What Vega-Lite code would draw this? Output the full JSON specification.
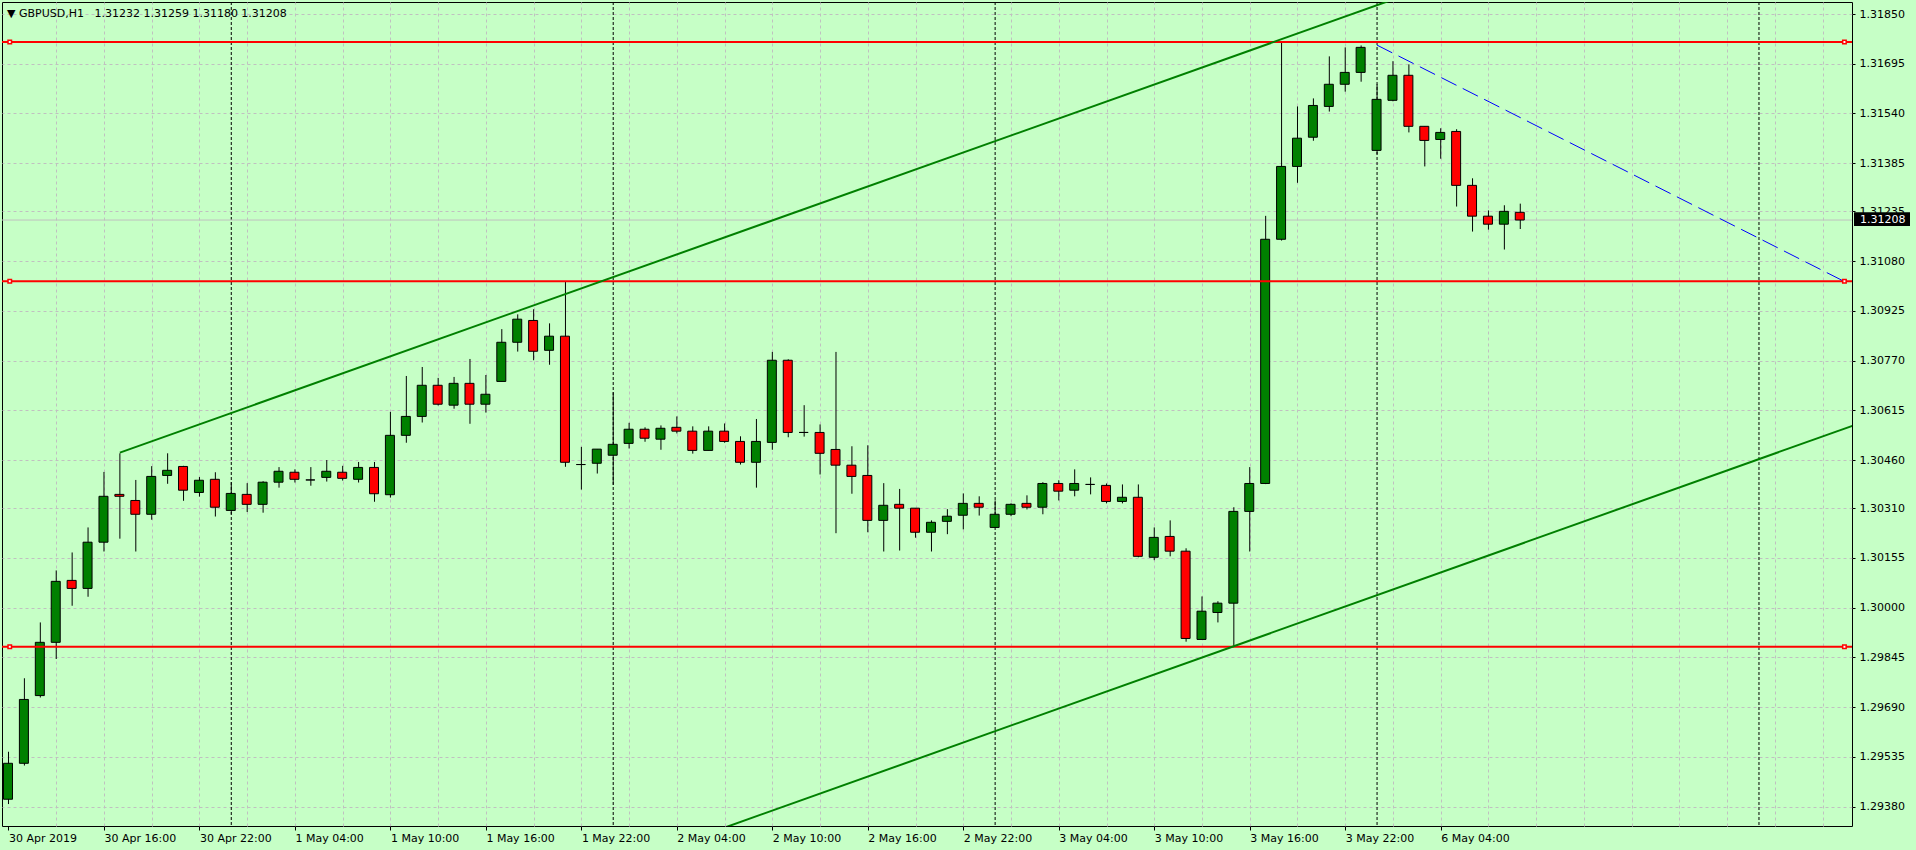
{
  "$schema": "https://vega.github.io/schema/vega-lite/v6.json",
  "width": 1850,
  "height": 824,
  "autosize": {"type": "none"},
  "padding": {"left": 2, "top": 2, "right": 64, "bottom": 24},
  "background": "#c6ffc6",
  "config": {
    "view": {"stroke": "#000000", "strokeWidth": 1, "fill": "#c6ffc6"},
    "font": "DejaVu Sans",
    "axis": {"labelFont": "DejaVu Sans", "labelFontSize": 11, "labelColor": "#000000", "tickColor": "#000000", "tickWidth": 1, "domain": false, "gridColor": "#c0c0c0", "gridDash": [3, 3], "gridWidth": 1, "gridOpacity": 1}
  },
  "title": {"text": "▼ GBPUSD,H1\u00a0\u00a0 1.31232 1.31259 1.31180 1.31208", "anchor": "start", "frame": "group", "orient": "top", "offset": -17, "dx": 5, "font": "DejaVu Sans", "fontSize": 11, "fontWeight": "normal", "color": "#000000"},
  "datasets": {
    "candles": [
      {"t": "2019-04-30 10:00", "i": 0, "o": 1.29403, "h": 1.29551, "l": 1.29388, "c": 1.29515},
      {"t": "2019-04-30 11:00", "i": 1, "o": 1.29515, "h": 1.29780, "l": 1.29508, "c": 1.29714},
      {"t": "2019-04-30 12:00", "i": 2, "o": 1.29726, "h": 1.29954, "l": 1.29720, "c": 1.29892},
      {"t": "2019-04-30 13:00", "i": 3, "o": 1.29892, "h": 1.30116, "l": 1.29840, "c": 1.30082},
      {"t": "2019-04-30 14:00", "i": 4, "o": 1.30085, "h": 1.30172, "l": 1.30006, "c": 1.30060},
      {"t": "2019-04-30 15:00", "i": 5, "o": 1.30060, "h": 1.30250, "l": 1.30034, "c": 1.30204},
      {"t": "2019-04-30 16:00", "i": 6, "o": 1.30204, "h": 1.30423, "l": 1.30175, "c": 1.30347},
      {"t": "2019-04-30 17:00", "i": 7, "o": 1.30353, "h": 1.30481, "l": 1.30215, "c": 1.30347},
      {"t": "2019-04-30 18:00", "i": 8, "o": 1.30334, "h": 1.30398, "l": 1.30175, "c": 1.30291},
      {"t": "2019-04-30 19:00", "i": 9, "o": 1.30291, "h": 1.30441, "l": 1.30274, "c": 1.30409},
      {"t": "2019-04-30 20:00", "i": 10, "o": 1.30412, "h": 1.30481, "l": 1.30386, "c": 1.30428},
      {"t": "2019-04-30 21:00", "i": 11, "o": 1.30440, "h": 1.30442, "l": 1.30333, "c": 1.30366},
      {"t": "2019-04-30 22:00", "i": 12, "o": 1.30359, "h": 1.30407, "l": 1.30346, "c": 1.30397},
      {"t": "2019-04-30 23:00", "i": 13, "o": 1.30400, "h": 1.30422, "l": 1.30284, "c": 1.30313},
      {"t": "2019-05-01 00:00", "i": 14, "o": 1.30303, "h": 1.30391, "l": 1.30291, "c": 1.30356},
      {"t": "2019-05-01 01:00", "i": 15, "o": 1.30353, "h": 1.30388, "l": 1.30298, "c": 1.30322},
      {"t": "2019-05-01 02:00", "i": 16, "o": 1.30322, "h": 1.30394, "l": 1.30296, "c": 1.30391},
      {"t": "2019-05-01 03:00", "i": 17, "o": 1.30391, "h": 1.30438, "l": 1.30374, "c": 1.30425},
      {"t": "2019-05-01 04:00", "i": 18, "o": 1.30422, "h": 1.30431, "l": 1.30390, "c": 1.30400},
      {"t": "2019-05-01 05:00", "i": 19, "o": 1.30398, "h": 1.30438, "l": 1.30380, "c": 1.30398},
      {"t": "2019-05-01 06:00", "i": 20, "o": 1.30406, "h": 1.30460, "l": 1.30393, "c": 1.30425},
      {"t": "2019-05-01 07:00", "i": 21, "o": 1.30422, "h": 1.30442, "l": 1.30396, "c": 1.30403},
      {"t": "2019-05-01 08:00", "i": 22, "o": 1.30400, "h": 1.30454, "l": 1.30390, "c": 1.30437},
      {"t": "2019-05-01 09:00", "i": 23, "o": 1.30437, "h": 1.30454, "l": 1.30330, "c": 1.30355},
      {"t": "2019-05-01 10:00", "i": 24, "o": 1.30352, "h": 1.30610, "l": 1.30343, "c": 1.30537},
      {"t": "2019-05-01 11:00", "i": 25, "o": 1.30537, "h": 1.30722, "l": 1.30514, "c": 1.30596},
      {"t": "2019-05-01 12:00", "i": 26, "o": 1.30596, "h": 1.30750, "l": 1.30577, "c": 1.30693},
      {"t": "2019-05-01 13:00", "i": 27, "o": 1.30693, "h": 1.30716, "l": 1.30630, "c": 1.30634},
      {"t": "2019-05-01 14:00", "i": 28, "o": 1.30631, "h": 1.30719, "l": 1.30620, "c": 1.30699},
      {"t": "2019-05-01 15:00", "i": 29, "o": 1.30699, "h": 1.30775, "l": 1.30573, "c": 1.30634},
      {"t": "2019-05-01 16:00", "i": 30, "o": 1.30634, "h": 1.30725, "l": 1.30608, "c": 1.30665},
      {"t": "2019-05-01 17:00", "i": 31, "o": 1.30705, "h": 1.30868, "l": 1.30705, "c": 1.30827},
      {"t": "2019-05-01 18:00", "i": 32, "o": 1.30827, "h": 1.30914, "l": 1.30798, "c": 1.30899},
      {"t": "2019-05-01 19:00", "i": 33, "o": 1.30895, "h": 1.30930, "l": 1.30771, "c": 1.30799},
      {"t": "2019-05-01 20:00", "i": 34, "o": 1.30802, "h": 1.30886, "l": 1.30757, "c": 1.30846},
      {"t": "2019-05-01 21:00", "i": 35, "o": 1.30846, "h": 1.31017, "l": 1.30439, "c": 1.30453},
      {"t": "2019-05-01 22:00", "i": 36, "o": 1.30446, "h": 1.30501, "l": 1.30368, "c": 1.30446},
      {"t": "2019-05-01 23:00", "i": 37, "o": 1.30450, "h": 1.30494, "l": 1.30418, "c": 1.30494},
      {"t": "2019-05-02 00:00", "i": 38, "o": 1.30475, "h": 1.30671, "l": 1.30383, "c": 1.30509},
      {"t": "2019-05-02 01:00", "i": 39, "o": 1.30512, "h": 1.30576, "l": 1.30496, "c": 1.30556},
      {"t": "2019-05-02 02:00", "i": 40, "o": 1.30556, "h": 1.30562, "l": 1.30517, "c": 1.30528},
      {"t": "2019-05-02 03:00", "i": 41, "o": 1.30525, "h": 1.30568, "l": 1.30492, "c": 1.30559},
      {"t": "2019-05-02 04:00", "i": 42, "o": 1.30562, "h": 1.30596, "l": 1.30543, "c": 1.30550},
      {"t": "2019-05-02 05:00", "i": 43, "o": 1.30550, "h": 1.30565, "l": 1.30480, "c": 1.30490},
      {"t": "2019-05-02 06:00", "i": 44, "o": 1.30490, "h": 1.30565, "l": 1.30490, "c": 1.30550},
      {"t": "2019-05-02 07:00", "i": 45, "o": 1.30550, "h": 1.30574, "l": 1.30514, "c": 1.30518},
      {"t": "2019-05-02 08:00", "i": 46, "o": 1.30518, "h": 1.30534, "l": 1.30446, "c": 1.30453},
      {"t": "2019-05-02 09:00", "i": 47, "o": 1.30453, "h": 1.30588, "l": 1.30374, "c": 1.30518},
      {"t": "2019-05-02 10:00", "i": 48, "o": 1.30515, "h": 1.30797, "l": 1.30492, "c": 1.30771},
      {"t": "2019-05-02 11:00", "i": 49, "o": 1.30771, "h": 1.30774, "l": 1.30531, "c": 1.30546},
      {"t": "2019-05-02 12:00", "i": 50, "o": 1.30546, "h": 1.30631, "l": 1.30533, "c": 1.30546},
      {"t": "2019-05-02 13:00", "i": 51, "o": 1.30546, "h": 1.30571, "l": 1.30415, "c": 1.30481},
      {"t": "2019-05-02 14:00", "i": 52, "o": 1.30493, "h": 1.30797, "l": 1.30232, "c": 1.30444},
      {"t": "2019-05-02 15:00", "i": 53, "o": 1.30444, "h": 1.30503, "l": 1.30355, "c": 1.30409},
      {"t": "2019-05-02 16:00", "i": 54, "o": 1.30412, "h": 1.30506, "l": 1.30235, "c": 1.30272},
      {"t": "2019-05-02 17:00", "i": 55, "o": 1.30272, "h": 1.30388, "l": 1.30175, "c": 1.30319},
      {"t": "2019-05-02 18:00", "i": 56, "o": 1.30322, "h": 1.30370, "l": 1.30178, "c": 1.30310},
      {"t": "2019-05-02 19:00", "i": 57, "o": 1.30310, "h": 1.30310, "l": 1.30218, "c": 1.30235},
      {"t": "2019-05-02 20:00", "i": 58, "o": 1.30235, "h": 1.30272, "l": 1.30175, "c": 1.30266},
      {"t": "2019-05-02 21:00", "i": 59, "o": 1.30269, "h": 1.30307, "l": 1.30229, "c": 1.30285},
      {"t": "2019-05-02 22:00", "i": 60, "o": 1.30288, "h": 1.30356, "l": 1.30244, "c": 1.30325},
      {"t": "2019-05-02 23:00", "i": 61, "o": 1.30325, "h": 1.30347, "l": 1.30287, "c": 1.30313},
      {"t": "2019-05-03 00:00", "i": 62, "o": 1.30250, "h": 1.30334, "l": 1.30250, "c": 1.30291},
      {"t": "2019-05-03 01:00", "i": 63, "o": 1.30291, "h": 1.30325, "l": 1.30285, "c": 1.30322},
      {"t": "2019-05-03 02:00", "i": 64, "o": 1.30325, "h": 1.30350, "l": 1.30306, "c": 1.30313},
      {"t": "2019-05-03 03:00", "i": 65, "o": 1.30313, "h": 1.30391, "l": 1.30291, "c": 1.30387},
      {"t": "2019-05-03 04:00", "i": 66, "o": 1.30387, "h": 1.30397, "l": 1.30334, "c": 1.30363},
      {"t": "2019-05-03 05:00", "i": 67, "o": 1.30366, "h": 1.30431, "l": 1.30347, "c": 1.30387},
      {"t": "2019-05-03 06:00", "i": 68, "o": 1.30384, "h": 1.30406, "l": 1.30353, "c": 1.30384},
      {"t": "2019-05-03 07:00", "i": 69, "o": 1.30381, "h": 1.30387, "l": 1.30325, "c": 1.30331},
      {"t": "2019-05-03 08:00", "i": 70, "o": 1.30331, "h": 1.30384, "l": 1.30325, "c": 1.30344},
      {"t": "2019-05-03 09:00", "i": 71, "o": 1.30344, "h": 1.30384, "l": 1.30157, "c": 1.30160},
      {"t": "2019-05-03 10:00", "i": 72, "o": 1.30157, "h": 1.30250, "l": 1.30148, "c": 1.30219},
      {"t": "2019-05-03 11:00", "i": 73, "o": 1.30222, "h": 1.30272, "l": 1.30160, "c": 1.30176},
      {"t": "2019-05-03 12:00", "i": 74, "o": 1.30176, "h": 1.30185, "l": 1.29894, "c": 1.29904},
      {"t": "2019-05-03 13:00", "i": 75, "o": 1.29901, "h": 1.30035, "l": 1.29901, "c": 1.29989},
      {"t": "2019-05-03 14:00", "i": 76, "o": 1.29985, "h": 1.30020, "l": 1.29954, "c": 1.30014},
      {"t": "2019-05-03 15:00", "i": 77, "o": 1.30014, "h": 1.30313, "l": 1.29880, "c": 1.30300},
      {"t": "2019-05-03 16:00", "i": 78, "o": 1.30300, "h": 1.30438, "l": 1.30175, "c": 1.30387},
      {"t": "2019-05-03 17:00", "i": 79, "o": 1.30387, "h": 1.31221, "l": 1.30385, "c": 1.31148},
      {"t": "2019-05-03 18:00", "i": 80, "o": 1.31148, "h": 1.31762, "l": 1.31144, "c": 1.31375},
      {"t": "2019-05-03 19:00", "i": 81, "o": 1.31375, "h": 1.31562, "l": 1.31324, "c": 1.31463},
      {"t": "2019-05-03 20:00", "i": 82, "o": 1.31466, "h": 1.31587, "l": 1.31455, "c": 1.31565},
      {"t": "2019-05-03 21:00", "i": 83, "o": 1.31562, "h": 1.31718, "l": 1.31546, "c": 1.31631},
      {"t": "2019-05-03 22:00", "i": 84, "o": 1.31631, "h": 1.31746, "l": 1.31608, "c": 1.31668},
      {"t": "2019-05-03 23:00", "i": 85, "o": 1.31668, "h": 1.31752, "l": 1.31639, "c": 1.31746},
      {"t": "2019-05-06 00:00", "i": 86, "o": 1.31425, "h": 1.31631, "l": 1.31413, "c": 1.31584},
      {"t": "2019-05-06 01:00", "i": 87, "o": 1.31581, "h": 1.31703, "l": 1.31578, "c": 1.31659},
      {"t": "2019-05-06 02:00", "i": 88, "o": 1.31659, "h": 1.31693, "l": 1.31481, "c": 1.31500},
      {"t": "2019-05-06 03:00", "i": 89, "o": 1.31500, "h": 1.31500, "l": 1.31375, "c": 1.31456},
      {"t": "2019-05-06 04:00", "i": 90, "o": 1.31459, "h": 1.31494, "l": 1.31399, "c": 1.31481},
      {"t": "2019-05-06 05:00", "i": 91, "o": 1.31484, "h": 1.31491, "l": 1.31250, "c": 1.31316},
      {"t": "2019-05-06 06:00", "i": 92, "o": 1.31316, "h": 1.31338, "l": 1.31172, "c": 1.31220},
      {"t": "2019-05-06 07:00", "i": 93, "o": 1.31220, "h": 1.31238, "l": 1.31178, "c": 1.31195},
      {"t": "2019-05-06 08:00", "i": 94, "o": 1.31195, "h": 1.31254, "l": 1.31116, "c": 1.31235},
      {"t": "2019-05-06 09:00", "i": 95, "o": 1.31232, "h": 1.31259, "l": 1.31180, "c": 1.31208}
    ],
    "separators": [
      {"t": "2019-05-01 00:00", "i": 14},
      {"t": "2019-05-02 00:00", "i": 38},
      {"t": "2019-05-03 00:00", "i": 62},
      {"t": "2019-05-06 00:00", "i": 86},
      {"t": "2019-05-07 00:00", "i": 110}
    ],
    "levels": [
      {"name": "resistance", "p": 1.31763},
      {"name": "middle", "p": 1.31017},
      {"name": "support", "p": 1.29878}
    ],
    "trend": [
      {"name": "upper", "i": 7, "p": 1.30483},
      {"name": "upper", "i": 87.5, "p": 1.31904},
      {"name": "lower", "i": 44, "p": 1.29297},
      {"name": "lower", "i": 116, "p": 1.30569},
      {"name": "blue", "i": 86, "p": 1.31753},
      {"name": "blue", "i": 115.5, "p": 1.31013}
    ],
    "bid": [{"p": 1.31208, "label": "1.31208"}]
  },
  "layer": [
    {
      "data": {"name": "separators"},
      "mark": {"type": "rule", "color": "#000000", "strokeWidth": 1, "strokeDash": [3, 2]},
      "encoding": {
        "x": {"field": "i", "type": "quantitative", "title": null,
          "scale": {"domain": [-0.09375, 115.53125], "nice": false, "zero": false},
          "axis": {"orient": "bottom", "values": [3,6,9,12,15,18,21,24,27,30,33,36,39,42,45,48,51,54,57,60,63,66,69,72,75,78,81,84,87,90,93,96,99,102,105,108,111,114], "grid": true, "labels": false, "ticks": false, "domain": false, "title": null}}
      }
    },
    {
      "data": {"name": "bid"},
      "mark": {"type": "rule", "color": "#c0c0c0", "strokeWidth": 1},
      "encoding": {
        "y": {"field": "p", "type": "quantitative", "title": null, "axis": null,
          "scale": {"domain": [1.293196, 1.318874], "nice": false, "zero": false}}
      }
    },
    {
      "data": {"name": "candles"},
      "mark": {"type": "rule", "color": "#000000", "strokeWidth": 1, "clip": true},
      "encoding": {
        "x": {"field": "i", "type": "quantitative", "title": null,
          "scale": {"domain": [-0.09375, 115.53125], "nice": false, "zero": false},
          "axis": {"orient": "bottom", "values": [0,6,12,18,24,30,36,42,48,54,60,66,72,78,84,90], "grid": false, "domain": false, "title": null, "tickSize": 4, "labelPadding": 2, "labelAlign": "left", "labelBaseline": "top", "labelFlush": false, "labelOverlap": false, "labelBound": false,
            "labelExpr": "['30 Apr 2019','30 Apr 16:00','30 Apr 22:00','1 May 04:00','1 May 10:00','1 May 16:00','1 May 22:00','2 May 04:00','2 May 10:00','2 May 16:00','2 May 22:00','3 May 04:00','3 May 10:00','3 May 16:00','3 May 22:00','6 May 04:00'][round(datum.value/6)]"}},
        "y": {"field": "l", "type": "quantitative", "title": null, "axis": null,
          "scale": {"domain": [1.293196, 1.318874], "nice": false, "zero": false}},
        "y2": {"field": "h"}
      }
    },
    {
      "data": {"name": "candles"},
      "mark": {"type": "bar", "width": 9, "xOffset": -0.5, "stroke": "#000000", "strokeWidth": 1, "clip": true, "cornerRadius": 0},
      "encoding": {
        "x": {"field": "i", "type": "quantitative", "title": null, "axis": null,
          "scale": {"domain": [-0.09375, 115.53125], "nice": false, "zero": false}},
        "y": {"field": "o", "type": "quantitative", "title": null,
          "scale": {"domain": [1.293196, 1.318874], "nice": false, "zero": false},
          "axis": {"orient": "right", "values": [1.2938, 1.29535, 1.2969, 1.29845, 1.3, 1.30155, 1.3031, 1.3046, 1.30615, 1.3077, 1.30925, 1.3108, 1.31235, 1.31385, 1.3154, 1.31695, 1.3185], "format": ".5f", "grid": true, "domain": false, "tickSize": 3, "labelPadding": 4, "labelAlign": "left", "labelBaseline": "middle", "labelFlush": false, "labelOverlap": false, "labelBound": false, "title": null}},
        "y2": {"field": "c"},
        "color": {"condition": {"test": "datum.c > datum.o", "value": "#008000"}, "value": "#ff0000"}
      }
    },
    {
      "data": {"name": "levels"},
      "mark": {"type": "rule", "color": "#ff0000", "strokeWidth": 2},
      "encoding": {
        "y": {"field": "p", "type": "quantitative", "title": null, "axis": null,
          "scale": {"domain": [1.293196, 1.318874], "nice": false, "zero": false}}
      }
    },
    {
      "data": {"name": "trend"},
      "transform": [{"filter": "datum.name !== 'blue'"}],
      "mark": {"type": "line", "color": "#008000", "strokeWidth": 2, "clip": true},
      "encoding": {
        "x": {"field": "i", "type": "quantitative", "title": null, "axis": null,
          "scale": {"domain": [-0.09375, 115.53125], "nice": false, "zero": false}},
        "y": {"field": "p", "type": "quantitative", "title": null, "axis": null,
          "scale": {"domain": [1.293196, 1.318874], "nice": false, "zero": false}},
        "detail": {"field": "name"}
      }
    },
    {
      "data": {"name": "trend"},
      "transform": [{"filter": "datum.name === 'blue'"}],
      "mark": {"type": "line", "color": "#0000ff", "strokeWidth": 1, "strokeDash": [17, 7], "clip": true},
      "encoding": {
        "x": {"field": "i", "type": "quantitative", "title": null, "axis": null,
          "scale": {"domain": [-0.09375, 115.53125], "nice": false, "zero": false}},
        "y": {"field": "p", "type": "quantitative", "title": null, "axis": null,
          "scale": {"domain": [1.293196, 1.318874], "nice": false, "zero": false}}
      }
    },
    {
      "data": {"name": "levels"},
      "mark": {"type": "point", "shape": "square", "size": 12, "filled": true, "fill": "#ffffff", "stroke": "#ff0000", "strokeWidth": 1.5, "opacity": 1},
      "encoding": {
        "x": {"datum": 0.08, "type": "quantitative", "axis": null,
          "scale": {"domain": [-0.09375, 115.53125], "nice": false, "zero": false}},
        "y": {"field": "p", "type": "quantitative", "title": null, "axis": null,
          "scale": {"domain": [1.293196, 1.318874], "nice": false, "zero": false}}
      }
    },
    {
      "data": {"name": "levels"},
      "mark": {"type": "point", "shape": "square", "size": 12, "filled": true, "fill": "#ffffff", "stroke": "#ff0000", "strokeWidth": 1.5, "opacity": 1},
      "encoding": {
        "x": {"datum": 115.37, "type": "quantitative", "axis": null,
          "scale": {"domain": [-0.09375, 115.53125], "nice": false, "zero": false}},
        "y": {"field": "p", "type": "quantitative", "title": null, "axis": null,
          "scale": {"domain": [1.293196, 1.318874], "nice": false, "zero": false}}
      }
    },
    {
      "data": {"name": "bid"},
      "mark": {"type": "rect", "color": "#000000", "xOffset": 2, "x2Offset": 58, "clip": false},
      "encoding": {
        "x": {"value": "width"},
        "x2": {"value": "width"},
        "y": {"datum": 1.31232, "type": "quantitative", "axis": null,
          "scale": {"domain": [1.293196, 1.318874], "nice": false, "zero": false}},
        "y2": {"datum": 1.31189}
      }
    },
    {
      "data": {"name": "bid"},
      "mark": {"type": "text", "color": "#ffffff", "align": "left", "baseline": "middle", "dx": 8, "font": "DejaVu Sans", "fontSize": 11, "clip": false},
      "encoding": {
        "x": {"value": "width"},
        "y": {"field": "p", "type": "quantitative", "title": null, "axis": null,
          "scale": {"domain": [1.293196, 1.318874], "nice": false, "zero": false}},
        "text": {"field": "label"}
      }
    }
  ],
  "resolve": {"axis": {"x": "independent", "y": "independent"}}
}
